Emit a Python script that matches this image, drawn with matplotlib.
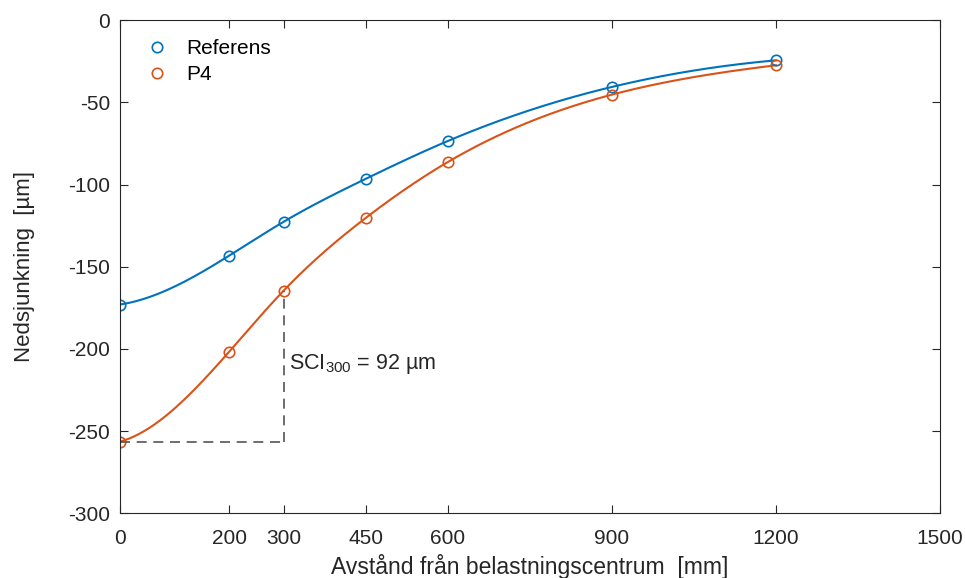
import numpy as np
import matplotlib.pyplot as plt

plt.rcParams['font.family'] = ['Liberation Sans', 'DejaVu Sans']
plt.rcParams['axes.unicode_minus'] = False
plt.rcParams['mathtext.fontset'] = 'custom'
plt.rcParams['mathtext.rm'] = 'Liberation Sans'
plt.rcParams['mathtext.it'] = 'Liberation Sans:italic'
plt.rcParams['mathtext.default'] = 'regular'

# avstånd [mm] och nedsjunkning [µm]
avstand = [0, 200, 300, 450, 600, 900, 1200]
referens = [-173, -143.3, -122.6, -96.5, -73.5, -40.6, -24.4]
p4 = [-256.5, -201.8, -164.5, -120.3, -86.3, -45.3, -27.4]
xticks = [0, 200, 300, 450, 600, 900, 1200, 1500]
yticks = [0, -50, -100, -150, -200, -250, -300]
sci_label = "SCI$_{300}$ = 92 µm"


def spline_notaknot(x, y, xs):
  # kubisk spline, "not-a-knot" ändvillkor (som MATLAB spline)
  x = np.asarray(x, float)
  y = np.asarray(y, float)
  n = len(x)
  h = np.diff(x)
  A = np.zeros((n, n))
  b = np.zeros(n)
  A[0, 0:3] = [-h[1], h[0]+h[1], -h[0]]
  A[-1, n-3:n] = [-h[n-2], h[n-2]+h[n-3], -h[n-3]]
  for i in range(1, n-1):
    A[i, i-1] = h[i-1]
    A[i, i] = 2*(h[i-1]+h[i])
    A[i, i+1] = h[i]
    b[i] = 6*((y[i+1]-y[i])/h[i] - (y[i]-y[i-1])/h[i-1])
  M = np.linalg.solve(A, b)
  idx = np.clip(np.searchsorted(x, xs) - 1, 0, n-2)
  x0, x1 = x[idx], x[idx+1]
  hh = x1 - x0
  t0 = x1 - xs
  t1 = xs - x0
  return (M[idx]*t0**3 + M[idx+1]*t1**3)/(6*hh) \
    + (y[idx]/hh - M[idx]*hh/6)*t0 + (y[idx+1]/hh - M[idx+1]*hh/6)*t1


blue = "#0072BD"
orange = "#D95319"
axcol = "#262626"

fig = plt.figure(figsize=(9.65, 5.78), dpi=100, facecolor="white")
ax = fig.add_axes([0.124, 0.112, 0.85, 0.853])

xs = np.linspace(0, 1200, 400)
ax.plot(xs, spline_notaknot(avstand, referens, xs), c=blue, lw=1.5)
ax.plot(xs, spline_notaknot(avstand, p4, xs), c=orange, lw=1.5)
ax.plot(avstand, referens, "o", mfc="none", mec=blue, ms=7.5, mew=1.2, label="Referens")
ax.plot(avstand, p4, "o", mfc="none", mec=orange, ms=7.5, mew=1.2, label="P4")

## SCI-markering
ax.plot([0, avstand[2]], [p4[0], p4[0]], ls=(0, (6, 4)), c="#555555", lw=1.2)
ax.plot([avstand[2], avstand[2]], [p4[0], p4[2]], ls=(0, (6, 4)), c="#555555", lw=1.2)
ax.text(310, -212, sci_label, fontsize=15.5, color=axcol, va="baseline", ha="left")

ax.set_xlim([0, 1500])
ax.set_ylim([-300, 0])
ax.set_xticks(xticks)
ax.set_yticks(yticks)
ax.tick_params(direction="in", top=True, right=True, labelsize=15, colors=axcol,
  length=6, width=0.8)
ax.tick_params(axis="x", pad=11)
ax.tick_params(axis="y", pad=7)
for s in ax.spines.values():
  s.set_color(axcol)
  s.set_linewidth(0.8)
ax.set_xlabel("Avstånd från belastningscentrum  [mm]", fontsize=16.5, color=axcol, labelpad=5)
ax.set_ylabel("Nedsjunkning  [µm]", fontsize=16, color=axcol, labelpad=24)
ax.legend(loc="upper left", frameon=False, fontsize=15, handletextpad=0.56,
  borderaxespad=0.5, borderpad=0.4, labelspacing=0.35, handlelength=1.76)

plt.savefig("out.png", dpi=100, facecolor="white")
